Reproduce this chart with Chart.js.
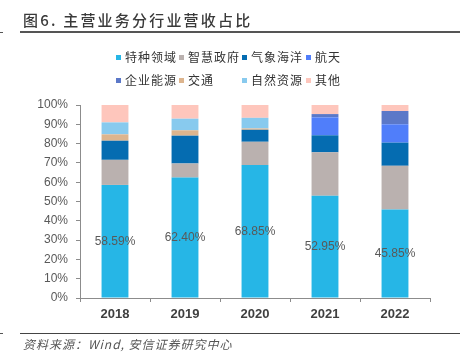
<!DOCTYPE html>
<html><head><meta charset="utf-8">
<script src="https://cdn.jsdelivr.net/npm/chart.js@4"></script>
<style>
html,body{margin:0;padding:0;background:#fff;}
#wrap{position:relative;width:465px;height:360px;overflow:hidden;font-family:"Noto Sans CJK SC","Liberation Sans",sans-serif;}
#title{position:absolute;left:23px;top:9px;font-size:15px;letter-spacing:2.2px;color:#3a3a3a;font-weight:500;white-space:nowrap;}
#tline{position:absolute;left:20px;top:31px;width:440px;height:2px;background:#555;}
#tdash{position:absolute;left:0;top:32px;width:3px;height:1px;background:#555;}
#bline{position:absolute;left:20px;top:333px;width:440px;height:1px;background:#444;}
#bdash{position:absolute;left:0;top:333px;width:3px;height:1px;background:#555;}
#source{position:absolute;left:23px;top:335px;font-size:12px;font-style:italic;color:#555;letter-spacing:1px;white-space:nowrap;}
#legend{position:absolute;left:116px;top:48px;}
.li{position:absolute;white-space:nowrap;font-size:12px;letter-spacing:1px;color:#333;height:18px;line-height:18px;}
.mk{display:inline-block;width:5px;height:5px;margin-right:4px;vertical-align:middle;position:relative;top:-1px;}
canvas{position:absolute;left:0;top:0;}
</style></head>
<body><div id="wrap">
<canvas id="c" width="465" height="360"></canvas>
<div id="title">图6. 主营业务分行业营收占比</div>
<div id="tline"></div><div id="tdash"></div>
<div id="legend"></div>
<div id="bline"></div><div id="bdash"></div>
<div id="source">资料来源：Wind, 安信证券研究中心</div>
</div>
<script>
const years = ["2018","2019","2020","2021","2022"];
const seriesNames = ["特种领域","智慧政府","气象海洋","航天","企业能源","交通","自然资源","其他"];
const seriesColors = ["#26B6E6","#BAB1AF","#056CB1","#507EFA","#5B78C8","#DDB58E","#88CAEE","#FEC6BC"];
const special   = [58.59, 62.40, 68.85, 52.95, 45.85];
const govt      = [13.0, 7.3, 12.1, 22.55, 22.65];
const ocean     = [9.9, 14.4, 6.2, 8.8, 12.0];
const aerospace = [0, 0, 0, 9.3, 9.5];
const energy    = [0, 0, 0, 1.7, 6.9];
const traffic   = [3.3, 2.8, 0.7, 0, 0];
const resources = [6.2, 6.0, 5.5, 0, 0];
const others    = [9.01, 7.1, 6.65, 4.7, 3.1];
const yTicks = [0,10,20,30,40,50,60,70,80,90,100];

const seriesValues = [special, govt, ocean, aerospace, energy, traffic, resources, others];

// HTML legend (2 rows x 4 columns)
const legendEl = document.getElementById('legend');
const colX = [0, 63, 126, 190];
seriesNames.forEach((n,i)=>{
  const d = document.createElement('div');
  d.className='li';
  d.style.left = colX[i%4]+'px';
  d.style.top = (Math.floor(i/4)*23)+'px';
  d.innerHTML = '<span class="mk" style="background:'+seriesColors[i]+'"></span>'+n;
  legendEl.appendChild(d);
});

const labelPlugin = {
  id:'segLabels',
  afterDatasetsDraw(chart){
    const ctx = chart.ctx;
    const meta = chart.getDatasetMeta(0);
    ctx.save();
    ctx.font = '12px "Liberation Sans", Arial, sans-serif';
    ctx.fillStyle = '#595959';
    ctx.textAlign = 'center';
    ctx.textBaseline = 'middle';
    meta.data.forEach((el,i)=>{
      const p = el.getProps(['x','y','base'], true);
      ctx.fillText(special[i].toFixed(2)+'%', p.x, (p.y+p.base)/2);
    });
    ctx.restore();
  }
};

new Chart(document.getElementById('c'), {
  type:'bar',
  data:{
    labels: years,
    datasets: seriesNames.map((n,i)=>({
      label:n, data:seriesValues[i], backgroundColor:seriesColors[i], borderWidth:0,
      categoryPercentage:0.8, barPercentage:0.48
    }))
  },
  options:{
    responsive:false, animation:false,
    layout:{padding:{left:0,right:35,top:105,bottom:32}},
    plugins:{legend:{display:false}, tooltip:{enabled:false}},
    scales:{
      x:{
        stacked:true,
        grid:{drawOnChartArea:false, drawTicks:true, tickLength:4, color:'#8c8c8c', offset:true},
        border:{display:true, color:'#8c8c8c', width:1},
        ticks:{font:{family:'"Liberation Sans", Arial, sans-serif', size:13, weight:'bold'}, color:'#404040', padding:5},
        afterFit(a){ a.height = 30; }
      },
      y:{
        stacked:true, min:0, max:100,
        afterBuildTicks(a){ a.ticks = yTicks.map(v=>({value:v})); },
        grid:{drawOnChartArea:false, drawTicks:true, tickLength:4, color:'#8c8c8c'},
        border:{display:true, color:'#8c8c8c', width:1},
        ticks:{font:{family:'"Liberation Sans", Arial, sans-serif', size:12}, color:'#595959', padding:8,
          callback:(v)=>v+'%'},
        afterFit(a){ a.width = 80; }
      }
    }
  },
  plugins:[labelPlugin]
});
</script>
</body></html>
